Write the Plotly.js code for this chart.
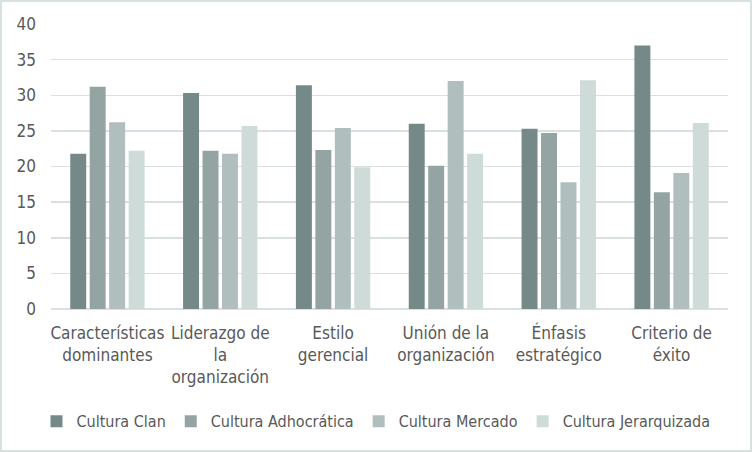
<!DOCTYPE html>
<html><head><meta charset="utf-8">
<script src="https://cdn.plot.ly/plotly-3.0.1.min.js"></script>
<style>
html,body{margin:0;padding:0;background:#fff;}
#wrap{position:relative;width:752px;height:452px;}
#chart{width:752px;height:452px;}
#frame{position:absolute;left:0;top:0;width:752px;height:452px;box-sizing:border-box;border:2px solid #d9e1df;pointer-events:none;}
</style></head>
<body>
<div id="wrap"><div id="chart"></div><div id="frame"></div></div>
<script>
const categories = ["Características<br>dominantes", "Liderazgo de<br>la<br>organización", "Estilo<br>gerencial", "Unión de la<br>organización", "Énfasis<br>estratégico", "Criterio de<br>éxito"];
const seriesNames = ["Cultura Clan", "Cultura Adhocrática", "Cultura Mercado", "Cultura Jerarquizada"];
const clan = [21.8, 30.3, 31.4, 26.0, 25.3, 37.0];
const adhocratica = [31.2, 22.2, 22.3, 20.1, 24.7, 16.4];
const mercado = [26.2, 21.8, 25.4, 32.0, 17.8, 19.1];
const jerarquizada = [22.2, 25.7, 19.9, 21.8, 32.1, 26.1];
const yTicks = [0, 5, 10, 15, 20, 25, 30, 35, 40];

const colors = ["#758a88", "#93a4a2", "#b0bfbd", "#cedbd9"];
const values = [clan, adhocratica, mercado, jerarquizada];
const font = "'DejaVu Sans Condensed', 'Liberation Sans Narrow', sans-serif";

const data = values.map((v, i) => ({
  type: "bar", name: seriesNames[i], x: categories, y: v,
  marker: {color: colors[i]}, hoverinfo: "none"
}));

const layout = {
  width: 752, height: 452,
  margin: {l: 51, r: 24, t: 24, b: 143, autoexpand: false},
  paper_bgcolor: "#fff", plot_bgcolor: "#fff",
  barmode: "group", bargap: 0.31, bargroupgap: 0.18,
  font: {family: font, size: 17, color: "#595959"},
  showlegend: true,
  legend: {orientation: "h", xref: "container", yref: "container", x: 0.5, xanchor: "center",
           y: 0.068, yanchor: "middle",
           font: {family: font, size: 16, color: "#595959"}, itemwidth: 30, traceorder: "normal"},
  xaxis: {type: "category", tickfont: {family: font, size: 17, color: "#595959"}, automargin: false,
          showgrid: false, showline: false, ticks: "", zeroline: false, fixedrange: true, ticklabelstandoff: 12},
  yaxis: {range: [0, 40], tickvals: yTicks, ticktext: yTicks.map(String), automargin: false,
          tickfont: {family: font, size: 17, color: "#595959"},
          showgrid: true, gridcolor: "#d9e1df", gridwidth: 1.5,
          zeroline: true, zerolinecolor: "#d9e1df", zerolinewidth: 1.5,
          showline: false, ticks: "", ticklabelstandoff: 14, fixedrange: true}
};
Plotly.newPlot("chart", data, layout, {staticPlot: true, displayModeBar: false});
</script>
</body></html>
